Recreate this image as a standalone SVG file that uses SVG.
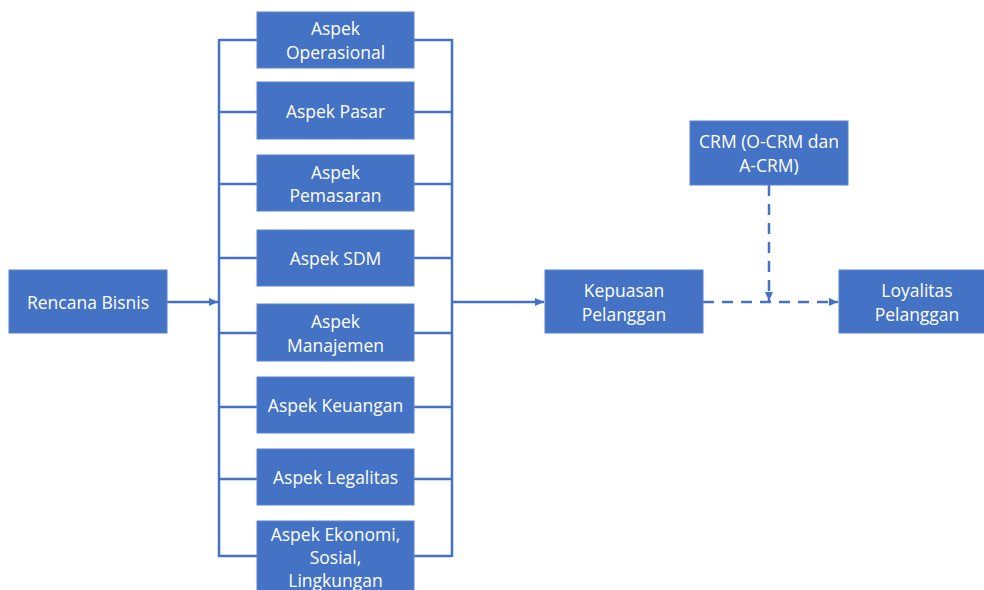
<svg xmlns="http://www.w3.org/2000/svg" width="984" height="590" viewBox="0 0 984 590">
<defs>
<marker id="ah" markerWidth="10" markerHeight="8" refX="9" refY="4" orient="auto" markerUnits="userSpaceOnUse">
<path d="M0,0 L9,4 L0,8 Z" fill="#4472C4"/>
</marker>
<style>
.box{fill:#4472C4;stroke:#5a84cc;stroke-width:1}
.t{font-family:"Open Sans","Noto Sans",sans-serif;font-size:17.5px;fill:#ffffff;text-anchor:middle;dominant-baseline:central}
.ln{stroke:#4472C4;stroke-width:2.5;fill:none}
.ds{stroke:#4472C4;stroke-width:2.5;fill:none;stroke-dasharray:11 8}
</style>
</defs>
<rect width="984" height="590" fill="#ffffff"/>
<g id="connectors">
<line class="ln" x1="167" y1="302" x2="218" y2="302" marker-end="url(#ah)"/>
<line class="ln" x1="219" y1="39" x2="219" y2="557"/>
<line class="ln" x1="452" y1="39" x2="452" y2="557"/>
<line class="ln" x1="219" y1="40" x2="257" y2="40"/>
<line class="ln" x1="219" y1="112" x2="257" y2="112"/>
<line class="ln" x1="219" y1="184" x2="257" y2="184"/>
<line class="ln" x1="219" y1="258" x2="257" y2="258"/>
<line class="ln" x1="219" y1="333" x2="257" y2="333"/>
<line class="ln" x1="219" y1="407" x2="257" y2="407"/>
<line class="ln" x1="219" y1="479" x2="257" y2="479"/>
<line class="ln" x1="219" y1="556" x2="257" y2="556"/>
<line class="ln" x1="414" y1="40" x2="452" y2="40"/>
<line class="ln" x1="414" y1="112" x2="452" y2="112"/>
<line class="ln" x1="414" y1="184" x2="452" y2="184"/>
<line class="ln" x1="414" y1="258" x2="452" y2="258"/>
<line class="ln" x1="414" y1="333" x2="452" y2="333"/>
<line class="ln" x1="414" y1="407" x2="452" y2="407"/>
<line class="ln" x1="414" y1="479" x2="452" y2="479"/>
<line class="ln" x1="414" y1="556" x2="452" y2="556"/>
<line class="ln" x1="452" y1="302" x2="544" y2="302" marker-end="url(#ah)"/>
<line class="ds" x1="703" y1="302" x2="838" y2="302" marker-end="url(#ah)"/>
<line class="ds" x1="769" y1="185" x2="769" y2="301" marker-end="url(#ah)"/>
</g>
<g id="rencana"><rect class="box" x="9" y="270" width="158" height="63"/><text class="t" x="88" y="302">Rencana Bisnis</text></g>
<g id="operasional"><rect class="box" x="257" y="12" width="157" height="56"/><text class="t" x="335.5" y="28">Aspek</text><text class="t" x="335.5" y="52">Operasional</text></g>
<g id="pasar"><rect class="box" x="257" y="82" width="157" height="57"/><text class="t" x="335.5" y="111">Aspek Pasar</text></g>
<g id="pemasaran"><rect class="box" x="257" y="155" width="157" height="56"/><text class="t" x="335.5" y="172">Aspek</text><text class="t" x="335.5" y="195">Pemasaran</text></g>
<g id="sdm"><rect class="box" x="257" y="230" width="157" height="56"/><text class="t" x="335.5" y="258">Aspek SDM</text></g>
<g id="manajemen"><rect class="box" x="257" y="304" width="157" height="57"/><text class="t" x="335.5" y="321">Aspek</text><text class="t" x="335.5" y="345">Manajemen</text></g>
<g id="keuangan"><rect class="box" x="257" y="377" width="157" height="56"/><text class="t" x="335.5" y="405">Aspek Keuangan</text></g>
<g id="legalitas"><rect class="box" x="257" y="449" width="157" height="56"/><text class="t" x="335.5" y="477">Aspek Legalitas</text></g>
<g id="ekonomi"><rect class="box" x="257" y="521" width="157" height="80"/><text class="t" x="335.5" y="534">Aspek Ekonomi,</text><text class="t" x="335.5" y="557">Sosial,</text><text class="t" x="335.5" y="580">Lingkungan</text></g>
<g id="kepuasan"><rect class="box" x="545" y="270" width="158" height="63"/><text class="t" x="624" y="290">Kepuasan</text><text class="t" x="624" y="314">Pelanggan</text></g>
<g id="crm"><rect class="box" x="690" y="121" width="158" height="64"/><text class="t" x="769" y="141">CRM (O-CRM dan</text><text class="t" x="769" y="165">A-CRM)</text></g>
<g id="loyalitas"><rect class="box" x="839" y="270" width="150" height="63"/><text class="t" x="917" y="290">Loyalitas</text><text class="t" x="917" y="314">Pelanggan</text></g>
</svg>
